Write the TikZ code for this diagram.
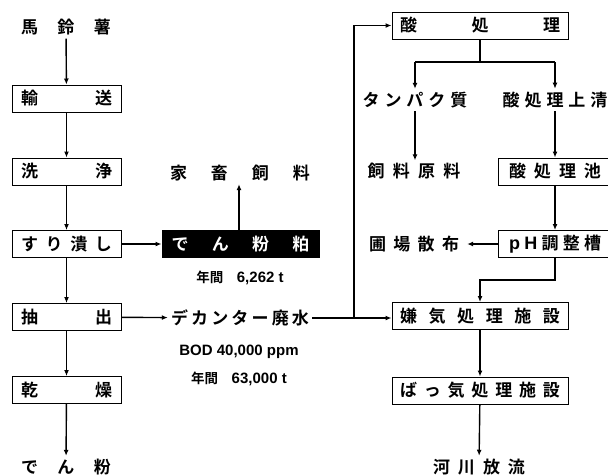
\documentclass[tikz,border=0pt]{standalone}
\usepackage{fontspec}
\newfontfamily\jp{Noto Sans CJK JP Bold}
\newfontfamily\lat{Liberation Sans}
\usetikzlibrary{arrows.meta}
\newcommand{\spr}[2]{\makebox[#1][s]{#2}}
\newcommand{\la}[1]{{\lat\bfseries\fontsize{15pt}{17pt}\selectfont #1}}
\begin{document}
\begin{tikzpicture}[x=1pt,y=-1pt,
  font=\jp\fontsize{17pt}{20pt}\selectfont,
  box/.style={draw, line width=1pt, minimum width=#1, minimum height=27pt, inner sep=0pt},
  lbl/.style={inner xsep=0pt, inner ysep=3pt},
  small/.style={font=\jp\fontsize{13.5pt}{16pt}\selectfont, inner sep=0pt},
  conn/.style={line width=1.4pt},
  arr/.style={conn, -{Latex[length=6pt,width=5pt]}}]
\useasboundingbox (0,0) rectangle (608,475);
% left column
\node[lbl] (potato) at (66,27.5) {\spr{90pt}{馬\hfill 鈴\hfill 薯}};
\node[box=109pt] (yuso) at (66.5,98.5) {\spr{91pt}{輸\hfill 送}};
\node[box=109pt] (senjo) at (66.5,171.5) {\spr{91pt}{洗\hfill 浄}};
\node[box=109pt] (suri) at (66.5,244) {\spr{91pt}{す\hfill り\hfill 潰\hfill し}};
\node[box=109pt] (chu) at (66.5,317) {\spr{91pt}{抽\hfill 出}};
\node[box=109pt] (kan) at (66.5,390) {\spr{91pt}{乾\hfill 燥}};
\node[lbl] (denpun) at (66,467) {\spr{90pt}{で\hfill ん\hfill 粉}};
% middle
\node[lbl] (kachiku) at (240,173) {\spr{140pt}{家\hfill 畜\hfill 飼\hfill 料}};
\node[box=157pt, fill=black, text=white] (kasu) at (240.5,244) {\spr{138pt}{で\hfill ん\hfill 粉\hfill 粕}};
\node[small] (n1) at (240,278) {年間　\la{6,262 t}};
\node[lbl, inner xsep=3pt] (dec) at (240,318) {\spr{138pt}{デ\hfill カ\hfill ン\hfill タ\hfill ー\hfill 廃\hfill 水}};
\node[small] (bod) at (239,352) {\la{BOD 40,000 ppm}};
\node[small] (n2) at (239,379) {年間　\la{63,000 t}};
% right
\node[box=176pt] (san) at (480,25.5) {\spr{160pt}{酸\hfill 処\hfill 理}};
\node[lbl] (tanpaku) at (415,100) {\spr{105pt}{タ\hfill ン\hfill パ\hfill ク\hfill 質}};
\node[lbl] (joseki) at (555,100) {\spr{105pt}{酸\hfill 処\hfill 理\hfill 上\hfill 清}};
\node[lbl] (shiryo) at (414,171.5) {\spr{93pt}{飼\hfill 料\hfill 原\hfill 料}};
\node[box=114pt] (ike) at (555,171.5) {\spr{92pt}{酸\hfill 処\hfill 理\hfill 池}};
\node[box=114pt] (ph) at (555,244) {\spr{92pt}{\la{\fontsize{18pt}{20pt}\selectfont p}\hfill \la{\fontsize{18pt}{20pt}\selectfont H}\hfill 調\hfill 整\hfill 槽}};
\node[lbl, inner xsep=8pt] (hojo) at (414,244) {\spr{90pt}{圃\hfill 場\hfill 散\hfill 布}};
\node[box=176pt] (kenki) at (480,316) {\spr{160pt}{嫌\hfill 気\hfill 処\hfill 理\hfill 施\hfill 設}};
\node[box=176pt] (bakki) at (480,390.5) {\spr{160pt}{ば\hfill っ\hfill 気\hfill 処\hfill 理\hfill 施\hfill 設}};
\node[lbl] (kasen) at (479,467) {\spr{92pt}{河\hfill 川\hfill 放\hfill 流}};
% coordinates
\coordinate (j) at (354,318);
\coordinate (s1) at (480,62);
\coordinate (sl) at (415,62);
\coordinate (sr) at (555,62);
\coordinate (p1) at (555,280);
% connectors
\draw[arr] (potato) -- (yuso);
\draw[arr] (yuso) -- (senjo);
\draw[arr] (senjo) -- (suri);
\draw[arr] (suri) -- (chu);
\draw[arr] (chu) -- (kan);
\draw[arr] (kan) -- (denpun);
\draw[arr] (suri) -- (kasu);
\draw[arr] (kasu.north -| 239,0) -- (kachiku.south -| 239,0);
\draw[arr] (chu) -- (dec);
\draw[conn] (dec.east) -- (j);
\draw[arr] (j) -- (kenki.west |- j);
\draw[arr] (j) |- (san.west);
\draw[conn] (san.south) -- (s1);
\draw[conn] (sl) -- (sr);
\draw[arr] (sl) -- (tanpaku.north -| sl);
\draw[arr] (sr) -- (joseki.north -| sr);
\draw[arr] (tanpaku.south -| sl) -- (shiryo.north -| sl);
\draw[arr] (joseki.south -| sr) -- (ike.north -| sr);
\draw[arr] (ike) -- (ph);
\draw[arr] (ph) -- (hojo);
\draw[arr] (ph.south) -- (p1) -| (kenki.north);
\draw[arr] (kenki) -- (bakki);
\draw[arr] (bakki) -- (kasen);
\end{tikzpicture}
\end{document}
